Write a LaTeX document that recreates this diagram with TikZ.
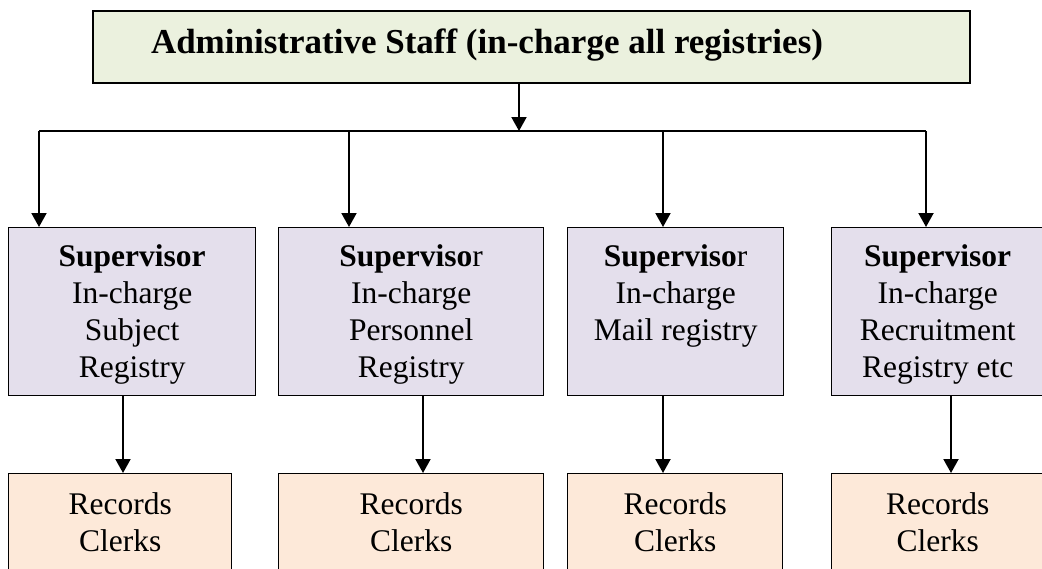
\documentclass[tikz,border=0pt]{standalone}
\usepackage{fontspec}
\setmainfont{Liberation Serif}
\usetikzlibrary{arrows.meta}
\definecolor{topfill}{HTML}{EBF1DE}
\definecolor{supfill}{HTML}{E4DFEC}
\definecolor{recfill}{HTML}{FDE9D9}
\newcommand{\topstrut}{\rule{0pt}{27.5pt}}
\begin{document}
\begin{tikzpicture}[x=1pt,y=-1pt,
  boxbase/.style={draw=black, line width=1.4pt, rectangle, inner sep=0pt, align=center,
    font=\fontsize{31.5}{37}\selectfont},
  topbox/.style={boxbase, fill=topfill, minimum width=877pt, minimum height=72pt},
  titletext/.style={inner sep=0pt, anchor=base, font=\fontsize{35}{40}\selectfont\bfseries},
  supbox/.style={boxbase, fill=supfill, minimum height=168pt, anchor=north west},
  recbox/.style={boxbase, fill=recfill, minimum height=98pt, anchor=north west},
  arr/.style={line width=2pt, -{Triangle[width=15pt,length=14pt]}},
  busline/.style={line width=2pt}]
\useasboundingbox (0,0) rectangle (1042,568);
\clip (0,0) rectangle (1042,568);
\fill[white] (0,0) rectangle (1042,568);

\node[topbox] (top) at (531.5,47) {};
\node[titletext] (title) at (487,53) {Administrative Staff (in-charge all registries)};

\node[supbox, minimum width=247pt] (s1) at (8,227) {\topstrut\textbf{Supervisor}\\In-charge\\Subject\\Registry};
\node[supbox, minimum width=265pt] (s2) at (278,227) {\topstrut\textbf{Superviso}r\\In-charge\\Personnel\\Registry};
\node[supbox, minimum width=216pt] (s3) at (567,227) {\topstrut\textbf{Superviso}r\\In-charge\\Mail registry\\\vphantom{Ry}};
\node[supbox, minimum width=212pt] (s4) at (831,227) {\topstrut\textbf{Supervisor}\\In-charge\\Recruitment\\Registry etc};

\node[recbox, minimum width=223pt] (r1) at (8,473) {Records\\Clerks};
\node[recbox, minimum width=265pt] (r2) at (278,473) {Records\\Clerks};
\node[recbox, minimum width=215pt] (r3) at (567,473) {Records\\Clerks};
\node[recbox, minimum width=212pt] (r4) at (831,473) {Records\\Clerks};

\coordinate (bus) at (519,131);
\coordinate (b1) at (39,131);
\coordinate (b2) at (349,131);
\coordinate (b3) at (663,131);
\coordinate (b4) at (926,131);

\draw[arr] (top.south -| bus) -- (bus);
\draw[busline] (b1) -- (b4);
\draw[arr] (b1) -- (s1.north -| b1);
\draw[arr] (b2) -- (s2.north -| b2);
\draw[arr] (b3) -- (s3.north -| b3);
\draw[arr] (b4) -- (s4.north -| b4);

\coordinate (d1) at (123,0);
\coordinate (d2) at (423,0);
\coordinate (d3) at (663,0);
\coordinate (d4) at (951,0);
\draw[arr] (s1.south -| d1) -- (r1.north -| d1);
\draw[arr] (s2.south -| d2) -- (r2.north -| d2);
\draw[arr] (s3.south -| d3) -- (r3.north -| d3);
\draw[arr] (s4.south -| d4) -- (r4.north -| d4);
\end{tikzpicture}
\end{document}
